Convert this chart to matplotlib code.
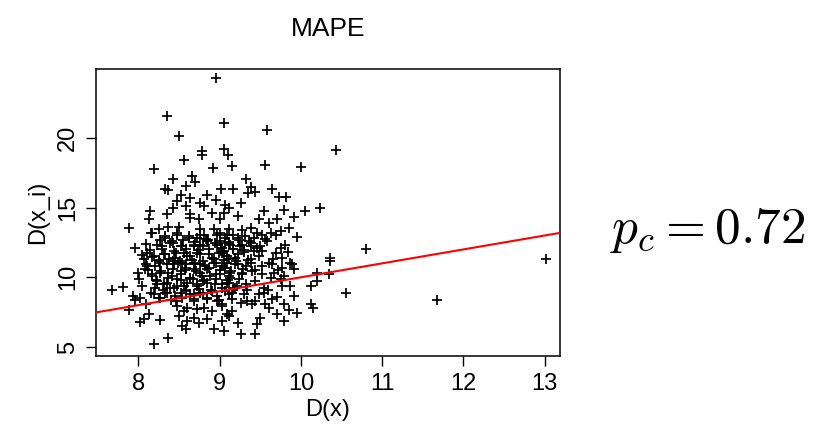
import matplotlib
matplotlib.use("Agg")
import matplotlib.pyplot as plt

plt.rcParams['font.family'] = ['Liberation Sans', 'DejaVu Sans']
plt.rcParams['mathtext.fontset'] = 'cm'

# D(x) and D(x_i), grouped roughly by region
dx = [
	# top / outliers
	8.96, 8.35, 9.05, 8.50, 8.78, 8.78, 9.05, 9.10, 8.56, 8.19, 8.92, 9.15, 9.58, 10.43, 9.56, 10.00, 10.80, 11.67, 13.01,
	# upper left block
	8.43, 8.66, 8.70, 8.33, 8.36, 8.59, 9.02, 8.64, 8.52, 8.85, 8.95, 8.48, 8.76, 8.42, 8.58, 8.81, 9.07, 8.14, 8.35, 8.64,
	8.91, 9.05, 8.13, 8.64, 8.74, 9.01, 7.88, 8.25, 8.36, 8.50, 8.15, 8.48, 8.76, 8.93, 8.62, 8.72, 8.81, 9.01, 9.11, 8.33,
	8.85, 7.96, 8.11, 8.29, 8.42, 8.54, 8.68, 8.76, 8.97, 9.07, 8.07, 8.17, 8.33, 8.46, 8.60, 8.72, 8.87, 9.03, 8.25, 8.42,
	8.54, 8.68, 8.09, 8.93, 9.11,
	# upper right block
	9.32, 9.17, 9.38, 9.35, 9.44, 9.65, 9.73, 9.82, 9.26, 9.11, 9.22, 9.54, 9.79, 10.05, 10.24, 9.48, 9.61, 9.70, 9.91, 9.38,
	9.28, 9.85, 9.75, 9.69, 9.95, 9.52, 9.56, 9.09, 9.22, 9.42, 9.11, 9.28, 9.38, 9.50, 9.75, 9.17, 9.05, 9.30, 9.52, 9.69,
	9.19, 9.48, 9.77, 10.36, 9.09, 9.38, 9.61, 9.87,
	# lower left block
	8.11, 8.27, 7.68, 7.81, 7.93, 7.96, 8.02, 8.09, 7.88, 8.13, 8.02, 8.07, 8.27, 8.19, 8.36, 8.15, 8.17, 8.23, 8.31, 8.21,
	8.35, 8.27, 8.46, 8.50, 8.54, 8.58, 8.60, 8.68, 8.74, 8.85, 8.93, 9.05, 9.03, 9.09, 8.56, 8.48, 8.60, 8.72, 8.81, 8.91,
	9.03, 8.68, 8.85, 8.97, 9.11, 8.52, 8.64, 8.76, 8.91, 8.39, 8.56, 8.72, 8.85, 9.03, 9.11, 8.48, 8.64, 8.78, 8.95, 8.37,
	8.52, 8.68, 8.87, 9.03, 8.44, 8.58, 8.76,
	# lower right block
	9.89, 10.36, 10.20, 10.34, 10.20, 10.12, 10.55, 9.91, 10.12, 10.15, 9.79, 9.85, 9.95, 9.71, 9.79, 9.50, 9.46, 9.44, 9.26, 9.22,
	9.65, 9.54, 9.56, 9.61, 9.40, 9.34, 9.26, 9.44, 9.15, 9.11, 9.03, 9.15, 9.30, 9.48, 9.54, 9.77, 9.87, 9.75, 9.63, 9.79,
	9.44, 9.32, 9.19, 9.11, 9.28, 9.13, 9.40, 9.52, 9.67, 9.22, 9.52, 9.65, 9.77, 9.07,
	# dense core
	8.17, 8.33, 8.47, 8.62, 8.76, 8.86, 8.97, 9.07, 9.17, 9.31, 9.46,
	8.23, 8.39, 8.53, 8.68, 8.80, 8.94, 9.03, 9.13, 9.25, 9.38, 9.46,
	8.19, 8.31, 8.45, 8.56, 8.64, 8.76, 8.90, 8.99, 9.09, 9.23, 9.38,
	8.21, 8.35, 8.49, 8.58, 8.70, 8.82, 8.96, 9.07, 9.19, 9.33,
	8.17, 8.27, 8.41, 8.53, 8.64, 8.76, 8.88, 9.01, 9.13, 9.27,
	8.23, 8.35, 8.47, 8.60, 8.72, 8.80, 8.94, 9.09, 9.21,
	8.19, 8.33, 8.45, 8.58, 8.68, 8.80, 8.97, 9.07,
	# dense core, second pass
	8.27, 8.41, 8.55, 8.70, 8.83, 9.00, 9.12, 9.24, 9.36,
	8.14, 8.29, 8.44, 8.58, 8.73, 8.87, 9.02, 9.16, 9.30, 9.42,
	8.25, 8.38, 8.51, 8.66, 8.79, 8.93, 9.05, 9.20, 9.35,
	8.12, 8.28, 8.42, 8.57, 8.71, 8.85, 9.00, 9.14, 9.29, 9.44,
	8.22, 8.37, 8.52, 8.67, 8.81, 8.95, 9.10, 9.24,
	8.30, 8.44, 8.59, 8.74, 8.89, 9.03, 9.17, 9.34,
	8.26, 8.40, 8.54, 8.69, 8.84, 8.99, 9.15,
	# left edge and right shoulder
	8.04, 8.08, 8.01, 8.10, 7.99, 8.05, 9.58, 9.66, 9.72, 9.81, 9.60, 9.70, 9.84, 9.92, 9.63,
]
dxi = [
	# top / outliers
	24.29, 21.55, 21.07, 20.11, 19.09, 18.80, 19.23, 18.80, 18.45, 17.80, 17.84, 17.97, 20.59, 19.11, 18.04, 17.92, 12.00, 8.35, 11.28,
	# upper left block
	17.06, 17.30, 16.82, 16.34, 16.25, 16.53, 16.30, 15.70, 15.87, 15.94, 15.58, 15.46, 15.34, 14.98, 15.10, 15.10, 15.22, 14.74, 14.51, 14.51,
	14.62, 14.62, 14.15, 14.26, 14.15, 14.15, 13.55, 13.47, 13.62, 13.62, 13.19, 13.19, 13.43, 13.43, 12.95, 12.83, 13.07, 13.19, 13.43, 12.83,
	12.59, 12.11, 11.76, 12.23, 12.47, 12.23, 12.23, 12.35, 12.35, 12.47, 11.28, 11.47, 11.64, 11.76, 11.52, 11.71, 11.64, 11.71, 11.16, 11.16,
	11.04, 11.04, 10.92, 11.04, 11.28,
	# upper right block
	17.06, 16.34, 16.48, 16.05, 16.10, 16.30, 15.77, 15.77, 15.34, 14.98, 14.43, 14.74, 14.81, 14.74, 14.98, 14.15, 13.91, 14.15, 14.33, 13.55,
	13.38, 13.55, 13.31, 13.02, 12.90, 13.07, 12.76, 13.07, 12.83, 12.83, 12.43, 12.35, 12.28, 12.23, 12.11, 12.00, 11.88, 11.81, 11.88, 11.71,
	11.40, 11.52, 11.40, 11.40, 11.04, 11.04, 11.04, 11.04,
	# lower left block
	10.80, 11.04, 9.06, 9.30, 8.65, 8.35, 8.49, 8.10, 7.63, 7.39, 6.81, 6.98, 6.91, 5.19, 5.67, 8.89, 10.09, 9.73, 9.49, 9.25,
	8.89, 8.53, 8.30, 7.22, 6.50, 6.27, 6.86, 7.10, 6.74, 6.98, 6.27, 6.15, 6.86, 7.34, 7.58, 7.94, 7.82, 7.70, 7.82, 7.58,
	7.94, 8.30, 8.42, 8.30, 8.77, 8.89, 8.77, 8.89, 9.01, 9.25, 9.37, 9.49, 9.61, 9.49, 10.09, 9.85, 9.96, 10.09, 10.21, 10.32,
	10.44, 10.57, 10.68, 10.80, 10.92, 10.92, 10.97,
	# lower right block
	10.92, 11.16, 10.32, 10.25, 9.73, 9.37, 8.89, 8.65, 8.06, 7.82, 8.06, 7.63, 7.46, 7.34, 6.86, 7.10, 6.63, 5.95, 5.91, 6.74,
	8.42, 8.89, 8.06, 7.82, 8.06, 8.30, 8.18, 8.30, 7.58, 7.22, 8.06, 8.89, 8.77, 8.77, 9.25, 9.37, 9.37, 9.85, 9.96, 10.09,
	9.73, 9.49, 9.25, 9.61, 10.21, 10.32, 10.44, 10.21, 10.32, 10.92, 10.80, 10.92, 10.68, 10.68,
	# dense core
	13.19, 12.95, 13.07, 12.83, 13.07, 12.71, 13.07, 12.83, 13.07, 12.95, 13.19,
	12.35, 12.47, 12.24, 12.35, 12.24, 12.47, 12.12, 12.35, 12.24, 12.47, 12.12,
	11.52, 11.64, 11.40, 11.76, 11.52, 11.64, 11.40, 11.76, 11.52, 11.64, 11.28,
	10.80, 10.92, 11.04, 10.68, 10.92, 10.80, 11.04, 10.68, 10.92, 10.80,
	10.21, 10.33, 10.09, 10.21, 9.97, 10.33, 10.09, 10.21, 9.97, 10.33,
	9.49, 9.61, 9.37, 9.61, 9.37, 9.73, 9.49, 9.61, 9.37,
	8.77, 8.89, 8.65, 9.01, 8.77, 8.89, 8.65, 9.01,
	# dense core, second pass
	12.70, 12.58, 12.66, 12.55, 12.72, 12.62, 12.55, 12.70, 12.60,
	11.95, 12.02, 11.90, 12.05, 11.94, 12.00, 11.90, 12.04, 11.96, 11.92,
	11.22, 11.30, 11.18, 11.26, 11.20, 11.32, 11.24, 11.16, 11.22,
	10.55, 10.48, 10.60, 10.52, 10.44, 10.58, 10.50, 10.46, 10.56, 10.50,
	9.84, 9.92, 9.80, 9.88, 9.78, 9.90, 9.82, 9.86,
	9.12, 9.20, 9.06, 9.16, 9.10, 9.22, 9.14, 9.08,
	8.48, 8.40, 8.54, 8.44, 8.50, 8.38, 8.46,
	# left edge and right shoulder
	11.60, 10.60, 9.90, 12.40, 10.30, 9.40, 12.60, 11.30, 10.50, 12.30, 9.10, 8.60, 11.80, 10.60, 13.20,
]

# red reference line: D(x_i) = a + b * D(x)
line_a = 0.0
line_b = 1.0

fig = plt.figure(figsize=(8.25, 4.45), dpi=100)
ax = fig.add_axes([0.116, 0.200, 0.563, 0.645])

ax.scatter(dx, dxi, marker='+', s=60, color='black', linewidths=1.25, zorder=2)
ax.axline((0, line_a), slope=line_b, color='red', linewidth=1.5, zorder=3)

ax.set_xlim(7.475, 13.19)
ax.set_ylim(4.35, 24.95)
ax.set_xticks([8, 9, 10, 11, 12, 13])
ax.set_yticks([5, 10, 15, 20])
ax.tick_params(axis='both', direction='out', length=7, width=1, labelsize=17, pad=5)
for lab in ax.get_yticklabels():
	lab.set_rotation(90)
	lab.set_va('center')
for sp in ax.spines.values():
	sp.set_linewidth(1.1)

ax.set_xlabel('D(x)', fontsize=17, labelpad=3)
ax.set_ylabel('D(x_i)', fontsize=17, labelpad=6)
ax.set_title('MAPE', fontsize=19, pad=24)

fig.text(0.857, 0.483, r'$p_c = 0.72$', fontsize=37, ha='center', va='center')

fig.savefig('out.png', dpi=100)
